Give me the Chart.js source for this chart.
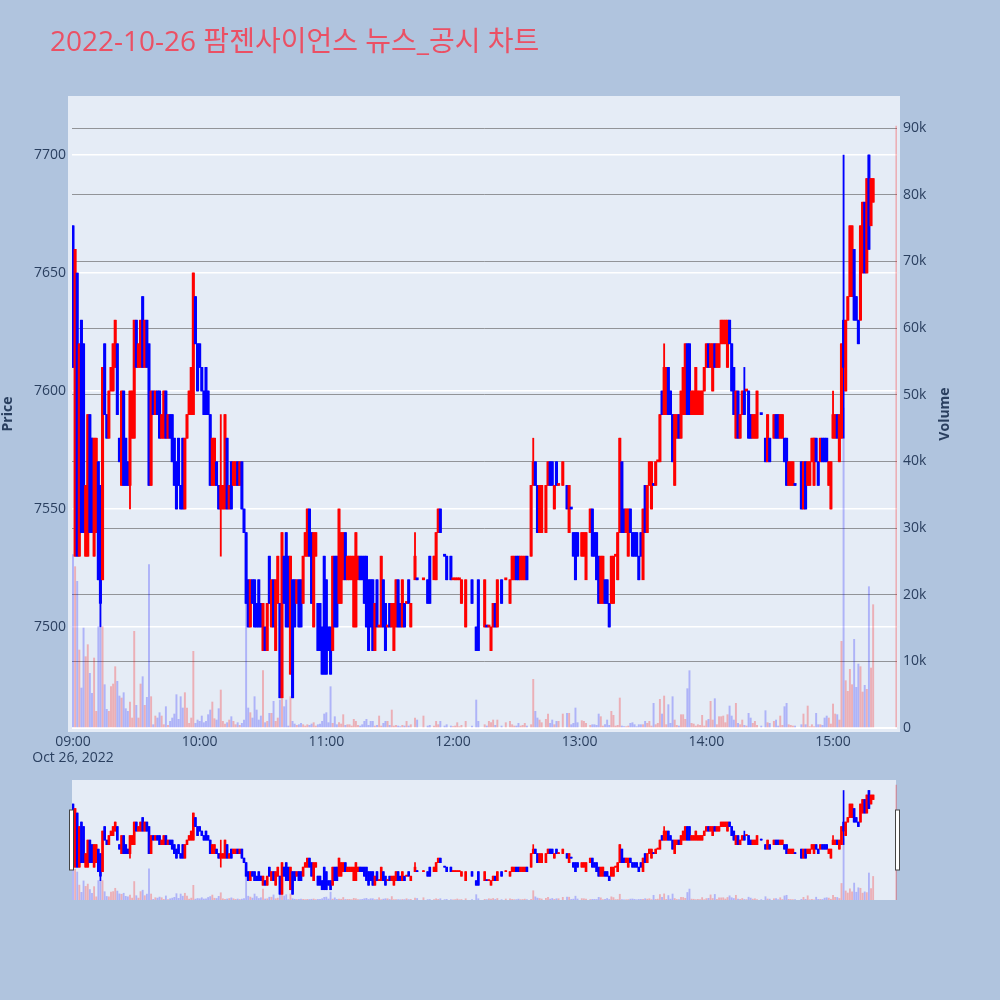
<!DOCTYPE html>
<html><head><meta charset="utf-8">
<script src="https://cdn.jsdelivr.net/npm/chart.js@4.4.0/dist/chart.umd.min.js"></script>
<style>
html,body{margin:0;padding:0;background:#b0c4de;width:1000px;height:1000px;overflow:hidden;}
#title{position:absolute;left:50px;top:21px;font-family:'Open Sans','Noto Sans CJK KR',sans-serif;font-size:28px;line-height:38px;color:rgb(235,80,100);white-space:nowrap;z-index:2;}
#main{position:absolute;left:0;top:0;}
#slider{position:absolute;left:0;top:780px;}
</style></head><body>
<canvas id="main" width="1000" height="780"></canvas>
<canvas id="slider" width="1000" height="120"></canvas>
<div id="title">2022-10-26 팜젠사이언스 뉴스_공시 차트</div>
<script>
const times = [
"09:00","09:01","09:02","09:03","09:04","09:05","09:06","09:07","09:08","09:09",
"09:10","09:11","09:12","09:13","09:14","09:15","09:16","09:17","09:18","09:19",
"09:20","09:21","09:22","09:23","09:24","09:25","09:26","09:27","09:28","09:29",
"09:30","09:31","09:32","09:33","09:34","09:35","09:36","09:37","09:38","09:39",
"09:40","09:41","09:42","09:43","09:44","09:45","09:46","09:47","09:48","09:49",
"09:50","09:51","09:52","09:53","09:54","09:55","09:56","09:57","09:58","09:59",
"10:00","10:01","10:02","10:03","10:04","10:05","10:06","10:07","10:08","10:09",
"10:10","10:11","10:12","10:13","10:14","10:15","10:16","10:17","10:18","10:19",
"10:20","10:21","10:22","10:23","10:24","10:25","10:26","10:27","10:28","10:29",
"10:30","10:31","10:32","10:33","10:34","10:35","10:36","10:37","10:38","10:39",
"10:40","10:41","10:42","10:43","10:44","10:45","10:46","10:47","10:48","10:49",
"10:50","10:51","10:52","10:53","10:54","10:55","10:56","10:57","10:58","10:59",
"11:00","11:01","11:02","11:03","11:04","11:05","11:06","11:07","11:08","11:09",
"11:10","11:11","11:12","11:13","11:14","11:15","11:16","11:17","11:18","11:19",
"11:20","11:21","11:22","11:23","11:24","11:25","11:26","11:27","11:28","11:29",
"11:30","11:31","11:32","11:33","11:34","11:35","11:36","11:37","11:38","11:39","11:40",
"11:42","11:43","11:46","11:48","11:49","11:51","11:52","11:53","11:54","11:56","11:57","11:59","12:00","12:01","12:02","12:03",
"12:04","12:06","12:09","12:11","12:12","12:15","12:16","12:17","12:18","12:19","12:20","12:21","12:23","12:25","12:27","12:28","12:29","12:30","12:31","12:32","12:33","12:34","12:35",
"12:37","12:38","12:39","12:40","12:41","12:42","12:44","12:45","12:46","12:47","12:48","12:49","12:50","12:52","12:54","12:55","12:56","12:57","12:58","12:59","13:01","13:02","13:03","13:05",
"13:06","13:07","13:08","13:09","13:10","13:11","13:12","13:13","13:14","13:15",
"13:16","13:17","13:18","13:19","13:20","13:21","13:22","13:23","13:24","13:25",
"13:26","13:27","13:28","13:29","13:30","13:31","13:32","13:33","13:34","13:35",
"13:36","13:37","13:38","13:39","13:40","13:41","13:42","13:43","13:44","13:45",
"13:46","13:47","13:48","13:49","13:50","13:51","13:52","13:53","13:54","13:55",
"13:56","13:57","13:58","13:59","14:00","14:01","14:02","14:03","14:04","14:05",
"14:06","14:07","14:08","14:09","14:10","14:11","14:12","14:13","14:14","14:15",
"14:16","14:17","14:18","14:19","14:20","14:21","14:22","14:23","14:24",
"14:26","14:28","14:29","14:30",
"14:32","14:33","14:34","14:35","14:36","14:37","14:38","14:39","14:40","14:41","14:42",
"14:45","14:46","14:47","14:48","14:49","14:50","14:51","14:52","14:53","14:54",
"14:55","14:56","14:57","14:58","14:59","15:00","15:01","15:02","15:03","15:04",
"15:05","15:06","15:07","15:08","15:09","15:10","15:11","15:12","15:13","15:14",
"15:15","15:16","15:17","15:18","15:19",
"15:30"
];
const open = [
7670,7530,7650,7530,7630,7620,7530,7530,7590,7580,
7530,7540,7570,7560,7520,7620,7590,7580,7600,7600,
7610,7620,7580,7560,7600,7580,7570,7560,7580,7580,
7630,7610,7610,7640,7610,7630,7620,7560,7600,7590,
7600,7600,7580,7580,7600,7580,7590,7590,7580,7570,
7580,7560,7580,7550,7580,7590,7590,7590,7640,7620,
7620,7610,7600,7610,7600,7590,7560,7560,7570,7560,
7550,7550,7550,7580,7550,7570,7560,7560,7570,7560,
7570,7550,7540,7520,7500,7520,7520,7510,7520,7510,
7490,7500,7490,7530,7500,7520,7490,7510,7510,7470,
7530,7540,7530,7480,7520,7520,7510,7520,7520,7510,
7530,7530,7550,7540,7500,7530,7510,7510,7500,7530,
7520,7500,7500,7490,7530,7530,7510,7510,7520,7540,
7520,7520,7520,7500,7500,7520,7530,7530,7530,7530,
7520,7520,7520,7490,7520,7500,7500,7520,7510,7500,
7510,7500,7490,7500,7520,7510,7500,7510,7510,7520,7500,
7520,7520,7520,7520,7530,7520,7520,7540,7550,7530,7530,7530,7520,7520,7520,7520,
7510,7500,7520,7500,7520,7500,7500,7500,7490,7500,7510,7500,7520,7520,7510,7520,7520,7530,7530,7520,7520,7520,7530,
7530,7560,7570,7560,7540,7540,7540,7560,7570,7570,7550,7570,7560,7560,7560,7540,7550,7540,7540,7540,7530,7530,7520,7540,
7550,7540,7540,7530,7510,7510,7520,7520,7510,7510,
7510,7530,7520,7540,7570,7550,7540,7530,7550,7540,
7540,7540,7530,7540,7520,7560,7540,7560,7550,7560,
7560,7570,7570,7600,7590,7590,7610,7600,7590,7560,
7580,7590,7580,7590,7590,7620,7620,7590,7590,7590,
7590,7590,7590,7600,7610,7620,7610,7600,7620,7610,
7610,7620,7620,7620,7610,7630,7620,7610,7580,7600,
7580,7590,7600,7600,7600,7590,7580,7580,7580,
7590,7580,7570,7580,
7580,7590,7590,7580,7580,7580,7580,7560,7560,7560,7560,
7570,7550,7570,7560,7560,7570,7560,7580,7570,7570,
7580,7580,7580,7560,7550,7580,7580,7590,7570,7580,
7630,7600,7630,7640,7640,7660,7640,7630,7630,7650,
7680,7650,7700,7670,7680,
null
];
const high = [
7670,7660,7650,7620,7630,7620,7560,7590,7590,7580,
7580,7580,7570,7560,7610,7620,7590,7600,7610,7620,
7630,7620,7580,7600,7600,7580,7570,7600,7600,7630,
7630,7620,7630,7640,7630,7630,7620,7600,7600,7600,
7600,7600,7590,7600,7600,7590,7590,7590,7580,7570,
7580,7560,7580,7580,7590,7600,7610,7650,7640,7620,
7620,7610,7600,7610,7600,7590,7580,7580,7570,7560,
7590,7560,7590,7580,7560,7570,7570,7570,7570,7570,
7570,7550,7540,7520,7520,7520,7520,7510,7520,7510,
7510,7500,7510,7530,7520,7520,7520,7530,7510,7540,
7530,7540,7530,7530,7520,7520,7520,7520,7520,7530,
7540,7550,7550,7540,7540,7540,7510,7510,7500,7530,
7520,7500,7500,7530,7530,7530,7550,7540,7540,7540,
7530,7530,7530,7530,7540,7530,7530,7530,7530,7530,
7520,7520,7520,7510,7520,7500,7530,7520,7510,7500,
7510,7510,7510,7520,7520,7510,7520,7510,7510,7520,7510,
7540,7520,7520,7520,7530,7530,7540,7550,7550,7530,7530,7530,7520,7520,7520,7520,
7520,7520,7520,7500,7520,7520,7500,7500,7500,7510,7510,7520,7520,7520,7520,7530,7530,7530,7530,7530,7530,7530,7530,
7560,7580,7570,7560,7560,7560,7560,7570,7570,7570,7560,7570,7560,7570,7560,7560,7550,7540,7540,7540,7540,7540,7540,7550,
7550,7540,7540,7530,7530,7530,7520,7520,7510,7530,
7530,7530,7540,7580,7570,7550,7550,7550,7550,7540,
7540,7540,7530,7540,7550,7560,7560,7570,7570,7560,
7570,7570,7590,7600,7620,7610,7610,7600,7590,7590,
7590,7590,7600,7610,7620,7620,7620,7600,7600,7610,
7600,7600,7600,7610,7620,7620,7620,7620,7620,7620,
7620,7630,7630,7630,7630,7630,7620,7610,7600,7600,
7590,7600,7610,7600,7600,7590,7590,7590,7600,
7590,7580,7590,7580,
7590,7590,7590,7590,7590,7580,7580,7570,7570,7570,7560,
7570,7570,7570,7570,7570,7580,7580,7580,7570,7580,
7580,7580,7580,7570,7570,7600,7590,7590,7590,7620,
7700,7630,7640,7670,7670,7660,7640,7630,7670,7680,
7680,7690,7700,7690,7690,
null
];
const low = [
7610,7530,7530,7530,7540,7540,7530,7530,7540,7540,
7530,7540,7520,7500,7520,7590,7580,7580,7600,7600,
7610,7590,7570,7560,7560,7560,7560,7550,7580,7580,
7610,7610,7610,7610,7610,7610,7560,7560,7590,7590,
7590,7580,7580,7580,7580,7580,7580,7570,7560,7550,
7560,7550,7550,7550,7580,7590,7590,7590,7620,7600,
7610,7600,7590,7590,7590,7560,7560,7560,7560,7550,
7530,7550,7550,7550,7550,7550,7560,7560,7560,7560,
7550,7540,7510,7500,7500,7510,7500,7500,7500,7500,
7490,7490,7490,7510,7500,7500,7490,7510,7470,7470,
7510,7500,7500,7480,7470,7500,7510,7500,7500,7510,
7530,7530,7530,7510,7500,7530,7490,7490,7480,7480,
7480,7490,7480,7490,7500,7500,7510,7510,7520,7520,
7520,7520,7520,7500,7500,7520,7520,7520,7510,7500,
7490,7500,7490,7490,7500,7500,7500,7500,7490,7500,
7500,7500,7490,7500,7500,7500,7500,7500,7510,7510,7500,
7520,7520,7520,7510,7510,7520,7520,7540,7540,7530,7520,7520,7520,7520,7520,7520,
7510,7500,7510,7490,7490,7500,7500,7500,7490,7500,7500,7500,7510,7520,7510,7520,7520,7520,7520,7520,7520,7520,7520,
7530,7560,7560,7540,7540,7540,7540,7560,7560,7560,7550,7560,7560,7560,7550,7540,7550,7530,7520,7530,7530,7530,7520,7540,
7530,7530,7520,7510,7510,7510,7510,7510,7500,7510,
7510,7530,7520,7540,7540,7540,7540,7530,7540,7530,
7530,7530,7520,7530,7520,7540,7540,7560,7550,7560,
7560,7570,7570,7590,7590,7590,7590,7590,7570,7560,
7580,7580,7580,7590,7590,7590,7590,7590,7590,7590,
7590,7590,7590,7600,7610,7610,7610,7600,7610,7610,
7610,7620,7620,7620,7610,7620,7600,7590,7580,7580,
7580,7590,7590,7600,7580,7580,7580,7580,7580,
7590,7570,7570,7570,
7580,7580,7580,7580,7580,7570,7560,7560,7560,7560,7560,
7550,7550,7550,7560,7560,7570,7560,7570,7560,7570,
7570,7570,7570,7560,7550,7580,7580,7580,7570,7580,
7580,7600,7630,7640,7640,7630,7630,7620,7630,7650,
7650,7650,7660,7670,7680,
null
];
const close = [
7610,7660,7530,7620,7540,7540,7560,7590,7540,7540,
7580,7580,7520,7510,7610,7590,7580,7600,7610,7620,
7630,7590,7570,7600,7560,7560,7560,7600,7600,7630,
7610,7620,7630,7610,7630,7610,7560,7600,7590,7600,
7590,7580,7590,7600,7580,7590,7580,7570,7560,7550,
7560,7550,7550,7580,7590,7600,7610,7650,7620,7600,
7610,7600,7590,7590,7590,7560,7580,7580,7560,7550,
7560,7560,7590,7550,7560,7550,7570,7570,7560,7570,
7550,7540,7510,7500,7520,7510,7500,7500,7500,7500,
7510,7490,7510,7510,7520,7500,7520,7530,7470,7540,
7510,7500,7500,7530,7470,7500,7520,7500,7500,7530,
7540,7550,7530,7510,7540,7540,7490,7490,7480,7480,
7480,7490,7480,7530,7500,7500,7550,7540,7540,7520,
7530,7530,7530,7530,7540,7530,7520,7520,7510,7500,
7490,7500,7490,7510,7500,7500,7530,7500,7490,7500,
7500,7510,7510,7520,7500,7500,7520,7500,7510,7510,7510,
7530,7520,7520,7510,7510,7530,7540,7550,7540,7530,7520,7520,7520,7520,7520,7520,
7520,7520,7510,7490,7490,7520,7500,7500,7500,7510,7500,7520,7510,7520,7520,7530,7530,7520,7520,7530,7530,7530,7520,
7560,7570,7560,7540,7560,7560,7560,7570,7560,7560,7560,7560,7560,7570,7550,7560,7550,7530,7520,7530,7540,7540,7540,7550,
7530,7530,7520,7510,7530,7530,7510,7510,7500,7530,
7530,7530,7540,7580,7540,7540,7550,7550,7540,7530,
7530,7530,7520,7530,7550,7540,7560,7570,7570,7560,
7570,7570,7590,7590,7610,7610,7590,7590,7570,7590,
7590,7580,7600,7610,7620,7590,7590,7600,7600,7610,
7600,7600,7600,7610,7620,7610,7620,7620,7610,7620,
7620,7630,7630,7630,7630,7620,7600,7590,7600,7580,
7590,7600,7590,7600,7580,7580,7590,7590,7600,
7590,7570,7590,7570,
7590,7580,7580,7590,7590,7570,7560,7570,7570,7570,7560,
7550,7570,7550,7570,7570,7580,7580,7570,7560,7580,
7570,7570,7570,7570,7570,7590,7590,7580,7590,7620,
7610,7630,7640,7670,7670,7630,7630,7620,7670,7680,
7650,7690,7660,7690,7690,
null
];
const volume = [
26000,24200,22000,11700,6000,15000,10700,12500,8200,5200,
10500,2500,15200,15000,15200,6500,2800,2500,6200,6600,
9200,7000,4800,4500,5300,2900,2500,3900,1500,14500,
3400,1500,6600,7700,3400,4600,24500,4700,500,1800,
1500,2300,1800,500,3200,400,1000,1500,2100,5000,
1300,4700,3000,5300,3000,700,1500,11500,700,1200,
1000,1800,800,1000,2000,2700,3900,1400,1200,2900,
5700,1000,600,800,1200,1700,1000,500,800,400,
700,1200,27000,3000,2300,1500,4700,2700,1200,1800,
8600,800,1000,2200,2200,4000,1000,1500,4200,4700,
3200,4200,300,4700,1000,600,400,500,700,500,
300,500,400,600,800,300,500,600,1000,2100,
2300,800,6200,700,1700,500,800,600,2000,400,
500,500,300,1300,1000,400,300,500,1000,1300,
400,1000,1000,300,400,1800,300,700,1000,1000,
400,2700,300,400,300,200,400,300,1000,300,500,
1500,1200,1800,300,400,300,1000,500,1000,300,500,300,200,300,800,200,
400,1000,300,4200,1000,500,300,1000,800,1200,400,1200,300,800,1000,500,300,300,700,300,400,700,300,
500,7300,2500,1500,1200,800,1300,2100,700,1200,500,1000,1000,2100,2200,2200,500,700,3000,800,1100,1000,700,400,
500,500,400,2100,1700,300,500,1200,400,2500,
1900,300,400,4500,300,200,200,300,700,800,
500,200,500,500,500,1000,700,1000,300,3700,
500,700,4300,2100,4800,500,3500,700,4700,1200,
400,300,2000,2000,1300,5900,8600,700,600,300,
500,400,1900,300,1100,1300,4000,1200,4400,500,
1700,1700,1800,800,2000,3300,1800,1200,3700,700,
500,1200,400,300,2200,1500,700,1000,400,
300,2600,800,700,
1000,1200,300,1800,400,3200,3700,500,400,300,300,
500,2100,500,3300,200,500,200,2200,500,500,
400,1500,1800,1500,600,3600,2100,2000,1200,13000,
48000,7100,5500,8800,6500,13300,6100,9600,9200,5400,
6400,5800,21200,9000,18500,
90300
];
const priceTicks = [7500, 7550, 7600, 7650, 7700];
const volumeTicks = [0, 10000, 20000, 30000, 40000, 50000, 60000, 70000, 80000, 90000];
const timeTicks = ["09:00","10:00","11:00","12:00","13:00","14:00","15:00"];
const dateLabel = "Oct 26, 2022";

const FONT = "'Open Sans','Noto Sans CJK KR',sans-serif";
Chart.defaults.font.family = FONT;
Chart.defaults.color = '#2a3f5f';

const toMin = t => { const p = t.split(':').map(Number); return (p[0] - 9) * 60 + p[1]; };
const xs = times.map(toMin);
const up = [];
let prevC = null;
for (let i = 0; i < times.length; i++) {
  if (open[i] == null) { up.push(true); continue; }
  let u;
  if (close[i] > open[i]) u = true;
  else if (close[i] < open[i]) u = false;
  else u = prevC == null || close[i] >= prevC;
  up.push(u);
  prevC = close[i];
}
const RED = '#ff0000', BLUE = '#0000ff';
const cIdx = times.map((t, i) => i).filter(i => open[i] != null);
const wickData = cIdx.map(i => ({ x: xs[i], y: [low[i], high[i]] }));
const bodyData = cIdx.map(i => ({ x: xs[i], y: [open[i], close[i]] }));
const candleColors = cIdx.map(i => up[i] ? RED : BLUE);
const volData = times.map((t, i) => ({ x: xs[i], y: volume[i] }));
const volColors = times.map((t, i) => up[i] ? 'rgba(255,0,0,0.26)' : 'rgba(0,0,255,0.24)');

const XMIN = -0.47, XMAX = 390.3;
const PMIN = 7457.2, PMAX = 7723.3;
const VMAX = 94200;

function datasets(bodyW, wickW, volW, minBody) {
  return [
    { type: 'bar', data: bodyData, backgroundColor: candleColors, barThickness: bodyW, minBarLength: minBody, grouped: false, yAxisID: 'y', order: 1 },
    { type: 'bar', data: wickData, backgroundColor: candleColors, barThickness: wickW, minBarLength: 1, grouped: false, yAxisID: 'y', order: 2 },
    { type: 'bar', data: volData, backgroundColor: volColors, barThickness: volW, grouped: false, yAxisID: 'y2', order: 3 }
  ];
}

const bgPlugin = {
  id: 'plotbg',
  beforeDraw(chart, args, opts) {
    const { ctx, chartArea: a } = chart;
    ctx.save();
    ctx.fillStyle = '#e5ecf6';
    ctx.fillRect(a.left - opts.pad, a.top - opts.pad, a.right - a.left + opts.pad * 2 - 1, a.bottom - a.top + opts.pad * 2);
    ctx.restore();
  }
};
const volTitlePlugin = {
  id: 'voltitle',
  afterDraw(chart) {
    const { ctx, chartArea: a } = chart;
    ctx.save();
    ctx.translate(945, (a.top + a.bottom) / 2);
    ctx.rotate(-Math.PI / 2);
    ctx.font = 'bold 14px ' + FONT;
    ctx.fillStyle = '#2a3f5f';
    ctx.textAlign = 'center';
    ctx.textBaseline = 'middle';
    ctx.fillText('Volume', 0, 0);
    ctx.restore();
  }
};

new Chart(document.getElementById('main'), {
  type: 'bar',
  data: { datasets: datasets(2.4, 1.2, 1.3, 2) },
  plugins: [bgPlugin, volTitlePlugin],
  options: {
    responsive: false, animation: false,
    layout: { padding: { top: 100, left: 0, right: 0, bottom: 0 } },
    plugins: { legend: { display: false }, tooltip: { enabled: false }, plotbg: { pad: 4 } },
    scales: {
      x: {
        type: 'linear', min: XMIN, max: XMAX, offset: false,
        grid: { display: false, drawTicks: false }, border: { display: false },
        afterBuildTicks: s => { s.ticks = timeTicks.map(t => ({ value: toMin(t) })); },
        ticks: {
          autoSkip: false, maxRotation: 0, padding: 6, color: '#2a3f5f',
          font: { size: 14, lineHeight: 1.12 },
          callback: v => { const l = timeTicks.find(t => toMin(t) === v); return v === 0 ? [l, dateLabel] : l; }
        },
        afterFit: s => { s.height = 52; }
      },
      y: {
        position: 'left', min: PMIN, max: PMAX,
        afterBuildTicks: s => { s.ticks = priceTicks.map(v => ({ value: v })); },
        grid: { color: '#ffffff', lineWidth: 1.5, drawTicks: false }, border: { display: false },
        ticks: { padding: 6, color: '#2a3f5f', font: { size: 14 }, callback: v => String(v) },
        title: { display: true, text: 'Price', color: '#2a3f5f', font: { size: 14, weight: 'bold' }, padding: 0 },
        afterFit: s => { s.width = 72; }
      },
      y2: {
        position: 'right', min: 0, max: VMAX,
        afterBuildTicks: s => { s.ticks = volumeTicks.map(v => ({ value: v })); },
        grid: {
          color: c => (c.tick && c.tick.value === 0) ? '#ffffff' : 'rgba(90,90,90,0.6)',
          lineWidth: c => (c.tick && c.tick.value === 0) ? 2 : 1,
          drawTicks: false
        },
        border: { display: false },
        ticks: { padding: 6, color: '#2a3f5f', font: { size: 14 }, callback: v => v === 0 ? '0' : (v / 1000) + 'k' },
        afterFit: s => { s.width = 103; }
      }
    }
  }
});

const handlePlugin = {
  id: 'handles',
  afterDraw(chart) {
    const { ctx, chartArea: a } = chart;
    ctx.save();
    ctx.fillStyle = '#ffffff';
    ctx.strokeStyle = '#444444';
    ctx.lineWidth = 1;
    const hy = a.top + 30, hh = 60;
    ctx.fillRect(a.left - 2.5, hy, 4, hh); ctx.strokeRect(a.left - 2.5, hy, 4, hh);
    ctx.fillRect(a.right - 1.5, hy, 4, hh); ctx.strokeRect(a.right - 1.5, hy, 4, hh);
    ctx.restore();
  }
};

new Chart(document.getElementById('slider'), {
  type: 'bar',
  data: { datasets: datasets(2.0, 1.0, 1.2, 1) },
  plugins: [bgPlugin, handlePlugin],
  options: {
    responsive: false, animation: false,
    layout: { padding: { top: 0, left: 72, right: 103, bottom: 0 } },
    plugins: { legend: { display: false }, tooltip: { enabled: false }, plotbg: { pad: 0 } },
    scales: {
      x: { type: 'linear', min: XMIN, max: XMAX, offset: false, display: false },
      y: { min: PMIN, max: PMAX, display: false },
      y2: { min: 0, max: VMAX, display: false, position: 'right' }
    }
  }
});
</script>
</body></html>
